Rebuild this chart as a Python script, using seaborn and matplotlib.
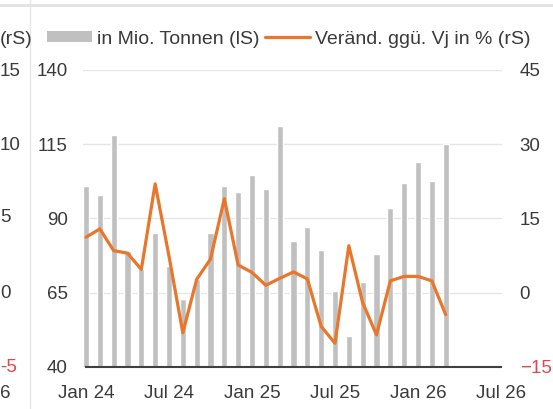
import numpy as np
import pandas as pd
import matplotlib
matplotlib.use("Agg")
import matplotlib.pyplot as plt
import seaborn as sns
from matplotlib.patches import Patch
from matplotlib.lines import Line2D

# Monatsdaten Jan 24 bis Mär 26
monate = pd.date_range("2024-01-01", "2026-03-01", freq="MS")
tonnen = [101, 98, 118, 79, 73, 85, 74, 63, 69.5, 85, 101, 99, 104.5, 100, 121,
          82.5, 87, 79.5, 65.5, 50.5, 68.5, 78, 93.5, 102, 109, 102.5, 115]
veraend = [11.2, 12.9, 8.5, 8.0, 4.7, 22.0, 7.4, -8.1, 2.7, 6.8, 19.0, 5.6, 4.1,
           1.5, 2.9, 4.2, 2.8, -6.8, -10.2, 9.5, -2.0, -8.5, 2.4, 3.3, 3.3, 2.4, -4.4]

x_ticks = [0, 6, 12, 18, 24, 30]
x_labels = ["Jan 24", "Jul 24", "Jan 25", "Jul 25", "Jan 26", "Jul 26"]
links_ticks = [40, 65, 90, 115, 140]
rechts_ticks = [-15, 0, 15, 30, 45]

df = pd.DataFrame({"pos": np.arange(len(monate)), "tonnen": tonnen, "veraend": veraend})

grau = "#C0C0C0"
orange = "#E8762B"
rot = "#E4464E"
txt = "#3A3A3A"

sns.set_style("white")
plt.rcParams["font.family"] = ["Liberation Sans", "DejaVu Sans"]
plt.rcParams["font.size"] = 13.5

fig = plt.figure(figsize=(5.53, 4.09), dpi=100)
ax = fig.add_axes([0.15, 0.1027, 0.7572, 0.7262])

sns.barplot(data=df, x="pos", y="tonnen", native_scale=True, color=grau,
            width=0.44, saturation=1, ax=ax, zorder=2)
ax.set_ylim(40, 140)
ax.set_xlim(-0.22, 30.05)
ax.set_yticks(links_ticks)
ax.set_xticks(x_ticks)
ax.set_xticklabels(x_labels)
ax.set_xlabel("")
ax.set_ylabel("")
for y in links_ticks[1:]:
    ax.axhline(y, color="#E6E6E6", lw=1, zorder=0)
for s in ["top", "right", "left"]:
    ax.spines[s].set_visible(False)
ax.spines["bottom"].set_color("#404040")
ax.spines["bottom"].set_linewidth(1.5)
ax.spines["bottom"].set_bounds(0, 30)
ax.tick_params(axis="x", length=6, width=1.5, color="#404040", pad=7, labelcolor=txt)
ax.tick_params(axis="y", length=0, pad=11, labelcolor=txt)

ax2 = ax.twinx()
sns.lineplot(data=df, x="pos", y="veraend", color=orange, lw=2.3, ax=ax2)
ax2.set_ylim(-15, 45)
ax2.set_yticks(rechts_ticks)
ax2.set_xlim(-0.22, 30.05)
ax2.set_ylabel("")
for s in ax2.spines.values():
    s.set_visible(False)
ax2.tick_params(axis="y", length=0, pad=13, labelcolor=txt)
ax2.get_yticklabels()[0].set_color(rot)

handles = [Patch(facecolor=grau, edgecolor="none"),
           Line2D([], [], color=orange, lw=2.3)]
fig.legend(handles, ["in Mio. Tonnen (lS)", "Veränd. ggü. Vj in % (rS)"],
           loc="center left", bbox_to_anchor=(47 / 553, 1 - 39 / 409), ncol=2,
           frameon=False, borderpad=0, borderaxespad=0, handlelength=2.3,
           handletextpad=0.26, columnspacing=0.3, handleheight=0.55,
           labelcolor=txt, fontsize=14)

# Reste der Nachbargrafik am linken Rand
fig.add_artist(Line2D([30 / 553, 30 / 553], [0, 1], color="#E6E6E6", lw=1))
fig.add_artist(Line2D([0, 1], [1 - 5 / 409, 1 - 5 / 409], color="#E2E2E2", lw=2))
fig.text(0, 1 - 40 / 409, "(rS)", color=txt, va="center", ha="left", fontsize=14)
for yp, lab, col in [(72, "15", txt), (145, "10", txt), (218, "5", txt),
                     (294, "0", txt), (367, "-5", rot), (393, "6", txt)]:
    fig.text(0, 1 - yp / 409, lab, color=col, va="center", ha="left", fontsize=13.5)

fig.savefig("out.png", dpi=100)
